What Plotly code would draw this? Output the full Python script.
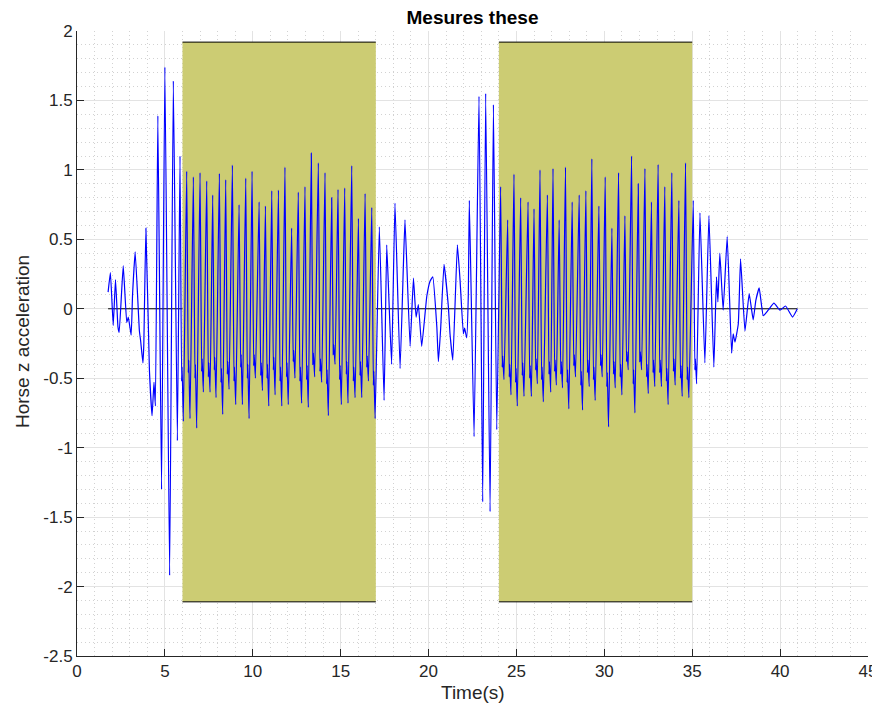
import plotly.graph_objects as go

# ---------------- data ----------------
# quiet start (s, value)
intro_t = [1.77, 1.90, 2.06, 2.19, 2.33, 2.40, 2.63, 2.83, 2.92, 3.08, 3.16, 3.31, 3.55, 3.62, 3.75, 3.80,
           3.92, 4.12, 4.27, 4.38, 4.46, 4.60, 4.81, 5.00, 5.27, 5.48, 5.71]
intro_v = [0.12, 0.26, -0.12, 0.21, -0.13, -0.17, 0.31, -0.10, -0.06, -0.19, 0.10, 0.41, -0.16, -0.23, -0.39, -0.26,
           0.58, -0.44, -0.77, -0.53, -0.70, 1.39, -1.30, 1.74, -1.92, 1.64, -0.95]

# first measured bout: peak times / peak values / shoulder dip / bump / deep trough
seg1_peak_t = [5.86, 6.24, 6.62, 7.00, 7.38, 7.72, 8.10, 8.46, 8.84, 9.22, 9.60, 9.96, 10.36, 10.72, 11.08,
               11.46, 11.83, 12.21, 12.59, 12.97, 13.33, 13.73, 14.11, 14.49, 14.85, 15.23, 15.63, 16.01, 16.39, 16.77]
seg1_peak_v = [1.10, 0.99, 0.95, 0.98, 0.92, 0.82, 0.975, 0.93, 1.035, 0.75, 0.94, 0.99, 0.77, 0.74, 0.85,
               0.855, 1.02, 0.58, 0.84, 0.88, 1.12, 1.05, 0.98, 0.80, 0.86, 0.87, 1.03, 0.65, 0.83, 0.73]
seg1_dip_v = [-0.52, -0.46, -0.50, -0.45, -0.49, -0.44, -0.53, -0.47, -0.52, -0.42, -0.50, -0.41, -0.48, -0.50, -0.44,
              -0.52, -0.49, -0.38, -0.52, -0.51, -0.40, -0.45, -0.54, -0.33, -0.51, -0.47, -0.52, -0.48, -0.42, -0.55]
seg1_bump_v = [-0.42, -0.37, -0.40, -0.36, -0.39, -0.35, -0.43, -0.38, -0.42, -0.33, -0.40, -0.33, -0.39, -0.40, -0.35,
               -0.42, -0.39, -0.30, -0.42, -0.41, -0.32, -0.36, -0.44, -0.26, -0.41, -0.38, -0.42, -0.38, -0.34, -0.45]
seg1_trough_v = [-0.81, -0.79, -0.86, -0.60, -0.60, -0.64, -0.76, -0.58, -0.69, -0.69, -0.79, -0.50, -0.59, -0.70, -0.62,
                 -0.70, -0.69, -0.50, -0.68, -0.71, -0.49, -0.53, -0.77, -0.40, -0.69, -0.68, -0.64, -0.64, -0.52, -0.79]

# pause between bouts
mid_t = [17.20, 17.47, 17.62, 17.75, 17.90, 18.09, 18.38, 18.57, 18.66, 18.95, 19.14, 19.29, 19.42, 19.61, 19.90,
         20.09, 20.24, 20.47, 20.56, 20.69, 20.88, 21.13, 21.22, 21.38, 21.64, 21.79, 21.98, 22.05, 22.17, 22.26,
         22.32, 22.59, 22.87, 23.08, 23.25, 23.50, 23.69, 23.88]
mid_v = [0.59, -0.66, 0.46, 0.05, -0.40, 0.76, -0.43, 0.32, 0.64, -0.27, 0.22, -0.06, 0.03, -0.27, 0.09,
         0.20, 0.23, -0.13, -0.38, -0.14, 0.32, 0.01, -0.18, -0.37, 0.46, 0.21, -0.18, -0.14, -0.21, 0.09,
         0.78, -0.92, 1.53, -1.39, 1.55, -1.46, 1.47, -0.87]

# second measured bout
seg2_peak_t = [24.10, 24.50, 24.86, 25.24, 25.66, 26.00, 26.34, 26.76, 27.08, 27.43, 27.79, 28.17, 28.57, 28.95, 29.29,
               29.69, 30.05, 30.43, 30.81, 31.17, 31.55, 31.93, 32.31, 32.68, 33.06, 33.44, 33.84, 34.24, 34.62, 35.06]
seg2_peak_v = [0.88, 0.64, 0.97, 0.80, 0.77, 0.72, 1.00, 0.82, 1.01, 0.64, 1.02, 0.77, 0.82, 0.85, 1.08,
               0.74, 0.95, 0.58, 0.98, 0.67, 1.10, 0.90, 1.01, 0.77, 1.04, 0.88, 0.98, 0.78, 1.05, 0.78]
seg2_dip_v = [-0.42, -0.49, -0.53, -0.48, -0.50, -0.44, -0.51, -0.47, -0.45, -0.47, -0.53, -0.41, -0.55, -0.46, -0.51,
              -0.41, -0.56, -0.47, -0.49, -0.38, -0.54, -0.38, -0.49, -0.46, -0.46, -0.52, -0.45, -0.50, -0.51, -0.44]
seg2_bump_v = [-0.34, -0.40, -0.43, -0.39, -0.41, -0.36, -0.42, -0.38, -0.37, -0.38, -0.44, -0.33, -0.45, -0.37, -0.42,
               -0.33, -0.46, -0.38, -0.40, -0.31, -0.44, -0.31, -0.40, -0.37, -0.37, -0.43, -0.36, -0.41, -0.42, -0.36]
seg2_trough_v = [-0.51, -0.62, -0.70, -0.63, -0.63, -0.54, -0.67, -0.60, -0.55, -0.57, -0.72, -0.49, -0.73, -0.56, -0.66,
                 -0.49, -0.85, -0.57, -0.62, -0.44, -0.75, -0.44, -0.61, -0.56, -0.56, -0.69, -0.55, -0.63, -0.64, -0.54]

# fading end
end_t = [35.44, 35.72, 35.95, 36.23, 36.38, 36.46, 36.57, 36.76, 36.99, 37.24, 37.33, 37.43, 37.62, 37.75, 38.00,
         38.24, 38.37, 38.47, 38.62, 38.81, 39.04, 39.32, 39.65, 39.99, 40.31, 40.71, 40.98]
end_v = [0.69, -0.39, 0.67, -0.42, 0.23, 0.05, 0.40, -0.01, 0.52, -0.32, -0.18, -0.24, -0.11, 0.36, -0.16,
         0.11, 0.00, -0.08, 0.06, 0.15, -0.05, -0.01, 0.04, -0.01, 0.02, -0.06, 0.00]

# shaded measurement windows
band_start = [6, 24]
band_end = [17, 35]
band_low = -2.11
band_high = 1.92

x_ticks = [0, 5, 10, 15, 20, 25, 30, 35, 40, 45]
x_labels = ["0", "5", "10", "15", "20", "25", "30", "35", "40", "45"]
y_ticks = [-2.5, -2, -1.5, -1, -0.5, 0, 0.5, 1, 1.5, 2]
y_labels = ["-2.5", "-2", "-1.5", "-1", "-0.5", "0", "0.5", "1", "1.5", "2"]

# ---------------- assemble the trace ----------------
def bout(pt, pv, dv, bv, tv):
    xs, ys = [], []
    for i in range(len(pt)):
        xs += [pt[i], pt[i] + 0.09, pt[i] + 0.12, pt[i] + 0.19]
        ys += [pv[i], dv[i], bv[i], tv[i]]
    return xs, ys

s1x, s1y = bout(seg1_peak_t, seg1_peak_v, seg1_dip_v, seg1_bump_v, seg1_trough_v)
s2x, s2y = bout(seg2_peak_t, seg2_peak_v, seg2_dip_v, seg2_bump_v, seg2_trough_v)
sig_t = intro_t + s1x + mid_t + s2x + end_t
sig_v = intro_v + s1y + mid_v + s2y + end_v

AX = "#262626"
FONT = "Liberation Sans, Arial, Helvetica, sans-serif"
fig = go.Figure()

# zero line (under the windows)
fig.add_trace(go.Scatter(x=[min(sig_t), max(sig_t)], y=[0, 0], mode="lines",
                         line=dict(color="black", width=1), hoverinfo="skip", showlegend=False))

for a, b in zip(band_start, band_end):
    fig.add_trace(go.Scatter(x=[a, b, b, a, a], y=[band_low, band_low, band_high, band_high, band_low],
                             mode="lines", fill="toself", fillcolor="rgb(204,204,115)",
                             line=dict(width=0), hoverinfo="skip", showlegend=False))
    for yy in (band_low, band_high):
        fig.add_trace(go.Scatter(x=[a, b], y=[yy, yy], mode="lines",
                                 line=dict(color="black", width=1), hoverinfo="skip", showlegend=False))

fig.add_trace(go.Scatter(x=sig_t, y=sig_v, mode="lines",
                         line=dict(color="rgb(0,0,255)", width=1.2, shape="spline", smoothing=0.35),
                         showlegend=False))

axis_common = dict(
    showline=True, linecolor=AX, linewidth=1, mirror=False,
    ticks="inside", ticklen=7, tickcolor=AX, tickwidth=1,
    showgrid=True, gridcolor="#e3e3e3", gridwidth=1,
    zeroline=False, automargin=False,
    tickfont=dict(family=FONT, size=17, color=AX),
)

minor_grid = dict(showgrid=True, gridcolor="#d2d2d2", griddash="1px,3px", gridwidth=1, ticks="")

fig.update_xaxes(range=[0, 45], tickvals=x_ticks, ticktext=x_labels,
                 minor=dict(dtick=1, **minor_grid), **axis_common)
fig.update_yaxes(range=[-2.5, 2], tickvals=y_ticks, ticktext=y_labels,
                 minor=dict(dtick=0.1, **minor_grid), **axis_common)

# the page body adds an 8 px offset, so the figure is sized/placed to compensate
W, H, OFF = 872, 701, 8
fig.update_layout(
    width=W, height=H,
    margin=dict(l=77 - OFF, r=12, t=31 - OFF, b=53),
    paper_bgcolor="white", plot_bgcolor="white",
    font=dict(family=FONT, color=AX),
    title=dict(text="<b>Mesures these</b>", x=0.5, xref="paper", y=1 - (17 - OFF) / H, yref="container",
               xanchor="center", yanchor="middle",
               font=dict(family=FONT, size=19, color="black")),
    annotations=[
        dict(text="Time(s)", x=0.5, y=(656 - 692) / 625, xref="paper", yref="paper",
             showarrow=False, xanchor="center", yanchor="middle",
             font=dict(family=FONT, size=19, color=AX)),
        dict(text="Horse z acceleration", x=(22 - 77) / 791, y=(656 - 342) / 625, xref="paper", yref="paper",
             showarrow=False, xanchor="center", yanchor="middle", textangle=-90,
             font=dict(family=FONT, size=19, color=AX)),
    ],
)

fig.write_html("out.html")
